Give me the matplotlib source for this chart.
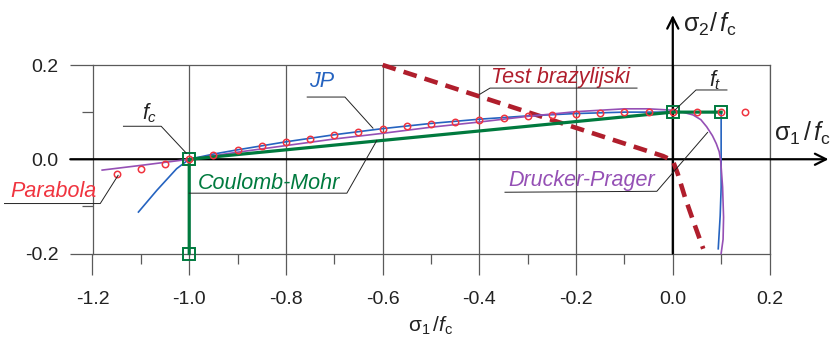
import matplotlib
matplotlib.use("Agg")
import matplotlib.pyplot as plt
import matplotlib.ticker as mticker

plt.rcParams["font.family"] = ["Liberation Sans", "DejaVu Sans"]
plt.rcParams["axes.unicode_minus"] = False
plt.rcParams["mathtext.fontset"] = "custom"
plt.rcParams["mathtext.rm"] = "Liberation Sans"
plt.rcParams["mathtext.it"] = "Liberation Sans:italic"

# parabola points (red circles)
par_x = [-1.15, -1.10, -1.05, -1.00, -0.95, -0.90, -0.85, -0.80, -0.75, -0.70,
         -0.65, -0.60, -0.55, -0.50, -0.45, -0.40, -0.35, -0.30, -0.25, -0.20,
         -0.15, -0.10, -0.05, 0.00, 0.05, 0.10, 0.15]
par_y = [-0.032, -0.021, -0.011, 0.000, 0.010, 0.019, 0.028, 0.036, 0.044, 0.051,
         0.058, 0.064, 0.070, 0.074, 0.079, 0.084, 0.088, 0.091, 0.094, 0.097,
         0.098, 0.100, 0.100, 0.100, 0.100, 0.100, 0.100]

# JP (blue)
jp_x = [-1.105, -1.067, -1.026, -1.0, -0.95, -0.9, -0.8, -0.7, -0.6, -0.5, -0.4,
        -0.3, -0.2, -0.1, 0.0, 0.1, 0.1, 0.1, 0.098, 0.094]
jp_y = [-0.112, -0.066, -0.020, 0.0, 0.011, 0.020, 0.037, 0.052, 0.065, 0.076, 0.085,
        0.092, 0.097, 0.100, 0.100, 0.100, 0.0, -0.06, -0.12, -0.19]

# Drucker-Prager (purple)
dp_x = [-1.18, -1.1, -1.0, -0.9, -0.8, -0.7, -0.6, -0.5, -0.4, -0.3, -0.2, -0.1,
        -0.05, 0.0, 0.02, 0.042, 0.058, 0.070, 0.082, 0.090, 0.096, 0.099, 0.103,
        0.105, 0.104, 0.100]
dp_y = [-0.023, -0.013, 0.0, 0.015, 0.029, 0.043, 0.055, 0.068, 0.079, 0.091, 0.101,
        0.107, 0.107, 0.104, 0.100, 0.094, 0.084, 0.069, 0.050, 0.033, 0.016, -0.002,
        -0.059, -0.123, -0.17, -0.2]

# Coulomb-Mohr (green)
cm_x = [-1.0, -1.0, 0.0, 0.1]
cm_y = [-0.2, 0.0, 0.1, 0.1]

# Test brazylijski (dashed)
tb_x = [-0.6, -0.02, 0.0, 0.01, 0.025, 0.042, 0.063]
tb_y = [0.2, 0.0067, -0.003, -0.03, -0.08, -0.13, -0.19]

c_blue = "#2563c0"
c_purple = "#9550b5"
c_red = "#f0343f"
c_green = "#007a3e"
c_dark = "#b01e2c"
c_gray = "#5a5a5a"

fig = plt.figure(figsize=(8.38, 3.42), dpi=100)
ax = fig.add_axes([92.5 / 838, 88.5 / 342, 677 / 838, 188.5 / 342])
ax.set_xlim(-1.2, 0.2)
ax.set_ylim(-0.2, 0.2)

for s in ax.spines.values():
    s.set_color(c_gray)
    s.set_linewidth(0.9)

ax.xaxis.set_major_locator(mticker.MultipleLocator(0.2))
ax.xaxis.set_minor_locator(mticker.MultipleLocator(0.1))
ax.yaxis.set_major_locator(mticker.MultipleLocator(0.2))
ax.yaxis.set_minor_locator(mticker.MultipleLocator(0.1))
ax.xaxis.set_major_formatter(mticker.FormatStrFormatter("%.1f"))
ax.yaxis.set_major_formatter(mticker.FormatStrFormatter("%.1f"))
ax.tick_params(axis="x", which="major", direction="out", length=15, width=0.9,
               color=c_gray, labelsize=14, pad=12, labelcolor="#222222")
ax.tick_params(axis="x", which="minor", direction="out", length=7.5, width=0.9, color=c_gray)
ax.tick_params(axis="y", which="major", direction="out", length=16.5, width=0.9,
               color=c_gray, labelsize=14, pad=8, labelcolor="#222222")
ax.tick_params(axis="y", which="minor", direction="out", length=8, width=0.9, color=c_gray)
ax.grid(axis="x", which="major", color=c_gray, lw=0.9)

# main axes with arrows
ax.annotate("", xy=(0.322, 0), xytext=(-1.246, 0), annotation_clip=False,
            arrowprops=dict(arrowstyle="->", lw=1.6, color="black",
                            shrinkA=0, shrinkB=0, mutation_scale=20))
ax.annotate("", xy=(0, 0.306), xytext=(0, -0.2), annotation_clip=False,
            arrowprops=dict(arrowstyle="->", lw=1.6, color="black",
                            shrinkA=0, shrinkB=0, mutation_scale=20))

ax.plot(tb_x, tb_y, color=c_dark, lw=3.3, dashes=(3.0, 1.8), dash_capstyle="butt",
        zorder=3, clip_on=False)
ax.plot(jp_x, jp_y, color=c_blue, lw=1.2, zorder=4, clip_on=False)
ax.plot(dp_x, dp_y, color=c_purple, lw=1.2, zorder=4, clip_on=False)
ax.plot(cm_x, cm_y, color=c_green, lw=2.3, zorder=5, clip_on=False)
ax.plot(cm_x, cm_y, ls="none", marker="s", ms=8, mfc="none", mec=c_green, mew=1.4,
        zorder=7, clip_on=False)
ax.plot(par_x, par_y, ls="none", marker="o", ms=4.6, mfc="none", mec=c_red, mew=1.1,
        zorder=6, clip_on=False)

# leader lines and labels
lead = dict(color="#222222", lw=0.7, zorder=8, clip_on=False)
ax.plot([-1.136, -1.058, -1.006], [0.070, 0.070, 0.013], **lead)
ax.text(-1.081, 0.098, r"$f_c$", fontsize=15.5, ha="center", va="center", color="#222222")

ax.plot([-0.756, -0.678, -0.620], [0.132, 0.132, 0.066], **lead)
ax.text(-0.727, 0.164, "JP", fontsize=15.5, style="italic", ha="center", va="center", color=c_blue)

ax.plot([-1.0, -0.674, -0.612], [-0.072, -0.072, 0.040], **lead)
ax.text(-0.983, -0.051, "Coulomb-Mohr", fontsize=15.5, style="italic", ha="left", va="center",
        color=c_green)

ax.plot([-1.382, -1.184, -1.147], [-0.094, -0.094, -0.034], **lead)
ax.text(-1.192, -0.068, "Parabola", fontsize=15.5, style="italic", ha="right", va="center",
        color=c_red)

ax.plot([-0.399, -0.378, -0.074], [0.138, 0.151, 0.151], **lead)
ax.text(-0.376, 0.174, "Test brazylijski", fontsize=15.5, style="italic", ha="left", va="center",
        color=c_dark)

ax.plot([0.112, 0.048, 0.004], [0.147, 0.147, 0.104], **lead)
ax.text(0.089, 0.168, r"$f_t$", fontsize=15.5, ha="center", va="center", color="#222222")

ax.plot([-0.347, -0.033, 0.072], [-0.070, -0.068, 0.057], **lead)
ax.text(-0.341, -0.045, "Drucker-Prager", fontsize=15.5, style="italic", ha="left", va="center",
        color=c_purple)

# axis titles
ax.text(0.021, 0.287, r"$\mathrm{σ}_2/\,f_\mathrm{c}$", fontsize=18, ha="left", va="center",
        color="#222222")
ax.text(0.21, 0.055, r"$\mathrm{σ}_1\,/\,f_\mathrm{c}$", fontsize=18, ha="left", va="center",
        color="#222222")
ax.set_xlabel(r"$\mathrm{σ}_1\,/f_\mathrm{c}$", fontsize=15, labelpad=5, color="#222222")

fig.savefig("out.png", dpi=100)
